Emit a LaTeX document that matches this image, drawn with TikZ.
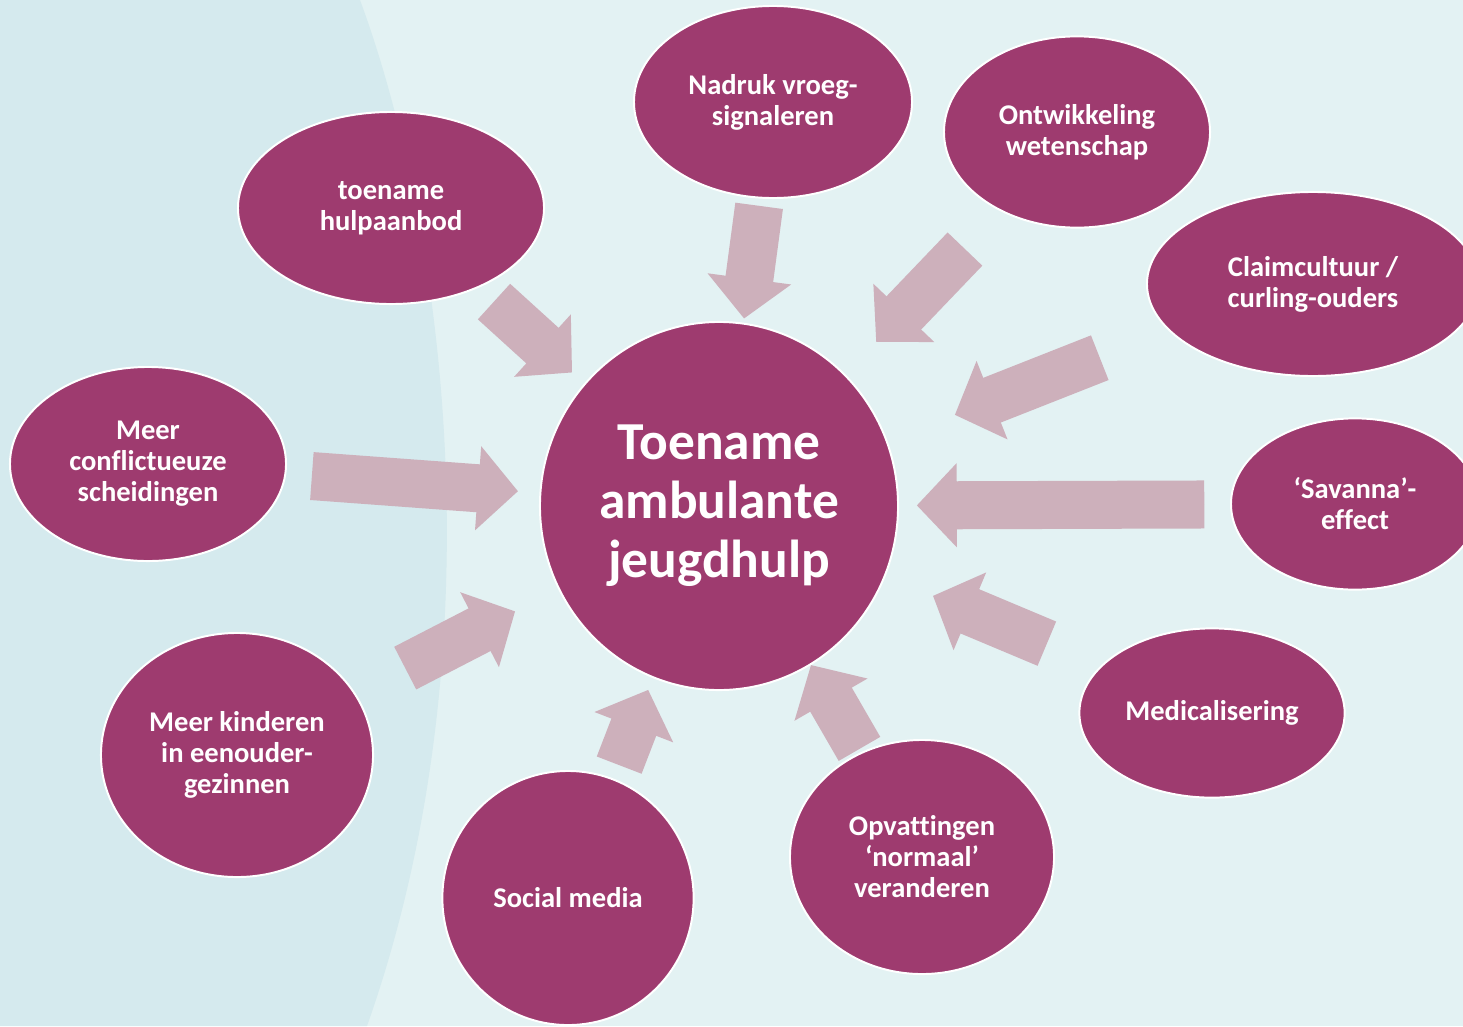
\documentclass[tikz,border=0pt]{standalone}
\usepackage{fontspec}
\setmainfont{Carlito}[Ligatures=NoCommon]
\usetikzlibrary{shapes.geometric,arrows.meta,calc}
\definecolor{plum}{HTML}{9E3B6F}
\definecolor{pinkarrow}{HTML}{CDB0BB}
\definecolor{bgpale}{HTML}{E3F2F3}
\definecolor{bgside}{HTML}{D5EAEE}
\tikzset{
  cause/.style={ellipse, fill=plum, draw=white, line width=1.4pt, text=white,
    align=center, inner sep=0pt, font=\bfseries\fontsize{20.3}{22}\selectfont},
  push/.style={draw=pinkarrow, fill=pinkarrow, line width=1.2cm,
    -{Triangle[width=2.05cm,length=1cm]}},
}
\begin{document}
\begin{tikzpicture}[x=0.025cm,y=-0.025cm]
  \useasboundingbox (0,0) rectangle (1463,1026);
  \clip (0,0) rectangle (1463,1026);
  % background
  \fill[bgpale] (0,0) rectangle (1463,1026);
  \fill[bgside] (0,0) -- (360,0) .. controls (445,230) and (500,650) .. (367,1026) -- (0,1026) -- cycle;
  % centre and causes
  \node[cause, minimum width=8.95cm, minimum height=9.2cm,
    font=\bfseries\fontsize{38}{42}\selectfont] (centre) at (719,506) {Toename\\ambulante\\jeugdhulp};
  \node[cause, minimum width=7.65cm, minimum height=4.8cm]  (aanbod)     at (391,208)  {toename\\hulpaanbod};
  \node[cause, minimum width=6.95cm, minimum height=4.8cm]  (signaal)    at (773,102)  {Nadruk vroeg-\\signaleren};
  \node[cause, minimum width=6.65cm, minimum height=4.78cm] (wetenschap) at (1077,132) {Ontwikkeling\\wetenschap};
  \node[cause, minimum width=8.3cm,  minimum height=4.6cm]  (claim)      at (1313,284) {Claimcultuur /\\curling-ouders};
  \node[cause, minimum width=6.2cm,  minimum height=4.28cm] (savanna)    at (1355,504) {‘Savanna’-\\effect};
  \node[cause, minimum width=6.63cm, minimum height=4.23cm] (medisch)    at (1212,713) {Medicalisering};
  \node[cause, minimum width=6.6cm,  minimum height=5.85cm] (normaal)    at (922,857)  {Opvattingen\\‘normaal’\\veranderen};
  \node[cause, minimum width=6.28cm, minimum height=6.35cm] (social)     at (568,898)  {Social media};
  \node[cause, minimum width=6.8cm,  minimum height=6.1cm]  (eenouder)   at (237,755)  {Meer kinderen\\in eenouder-\\gezinnen};
  \node[cause, minimum width=6.9cm,  minimum height=4.85cm] (scheiding)  at (148,464)  {Meer\\conflictueuze\\scheidingen};
  % block arrows towards the centre
  \draw[push] ($(aanbod)!0.314!(centre)$)     -- ($(aanbod)!0.552!(centre)$);
  \draw[push] ($(signaal)!0.257!(centre)$)    -- ($(signaal)!0.536!(centre)$);
  \draw[push] ($(wetenschap)!0.313!(centre)$) -- ($(wetenschap)!0.561!(centre)$);
  \draw[push] ($(claim)!0.359!(centre)+(0,-6)$) -- ($(claim)!0.603!(centre)+(0,-3)$);
  \draw[push] ($(savanna)!0.237!(centre)$)    -- ($(savanna)!0.689!(centre)$);
  \draw[push] ($(medisch)!0.335!(centre)$)    -- ($(medisch)!0.566!(centre)$);
  \draw[push] ($(normaal)!0.308!(centre)$)    -- ($(normaal)!0.547!(centre)$);
  \draw[push] ($(social)!0.339!(centre)$)     -- ($(social)!0.531!(centre)$);
  \draw[push] ($(eenouder)!0.349!(centre)$)   -- ($(eenouder)!0.577!(centre)$);
  \draw[push] ($(scheiding)!0.287!(centre)$)  -- ($(scheiding)!0.648!(centre)$);
\end{tikzpicture}
\end{document}
